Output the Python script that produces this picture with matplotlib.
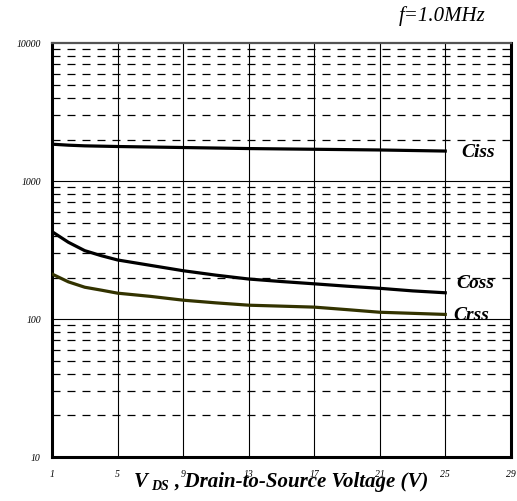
#!/usr/bin/env python3
import matplotlib
matplotlib.use("Agg")
import matplotlib.pyplot as plt
from matplotlib.ticker import FixedLocator, NullFormatter

# capacitance vs drain-source voltage (pF)
vds = [1, 2, 3, 4, 5, 7, 9, 11, 13, 15, 17, 19, 21, 23, 25]
ciss = [1850, 1820, 1800, 1790, 1780, 1765, 1750, 1735, 1720, 1710, 1700, 1690, 1680, 1665, 1650]
coss = [430, 360, 313, 288, 268, 245, 224, 208, 195, 187, 180, 173, 167, 160, 155]
crss = [212, 186, 170, 162, 154, 146, 137, 131, 126, 124, 122, 117, 112, 110, 108]

xticks = [1, 5, 9, 13, 17, 21, 25, 29]
yticks = [10, 100, 1000, 10000]
minor_y = [m * d for d in (10, 100, 1000) for m in range(2, 10)]

serif = "Liberation Serif"

fig = plt.figure(figsize=(5.17, 5.01), dpi=100)
ax = fig.add_axes([0.1006, 0.0878, 0.8874, 0.8262])

ax.set_yscale("log")
ax.set_xlim(1, 29)
ax.set_ylim(10, 10000)

# grid
for x in xticks[1:-1]:
    ax.axvline(x, color="black", lw=0.8, zorder=1)
for y in yticks[1:-1]:
    ax.axhline(y, color="black", lw=0.8, zorder=1)
for y in minor_y:
    ax.axhline(y, color="black", lw=0.9, ls=(0, (6.4, 5.6)), zorder=1)

ax.plot(vds, ciss, color="black", lw=2.3, zorder=3)
ax.plot(vds, coss, color="black", lw=2.3, zorder=3)
ax.plot(vds, crss, color="#333300", lw=2.3, zorder=3)

ax.xaxis.set_major_locator(FixedLocator(xticks))
ax.yaxis.set_major_locator(FixedLocator(yticks))
ax.yaxis.set_minor_locator(FixedLocator(minor_y))
ax.yaxis.set_minor_formatter(NullFormatter())
ax.set_xticklabels([str(v) for v in xticks], fontfamily=serif, fontstyle="italic", fontsize=7)
ax.set_yticklabels([str(v) for v in yticks], fontfamily=serif, fontstyle="italic", fontsize=7)
ax.tick_params(which="both", length=0)
ax.tick_params(axis="x", pad=9)
ax.tick_params(axis="y", pad=8)

for s in ax.spines.values():
    s.set_linewidth(2.2)
    s.set_color("black")
ax.spines["top"].set_color("#555555")
ax.spines["top"].set_linewidth(1.6)

lab = dict(fontfamily=serif, fontstyle="italic", fontweight="bold", fontsize=14)
ax.text(26.0, 1620, "Ciss", va="center", ha="left", **lab)
ax.text(25.7, 182, "Coss", va="center", ha="left", **lab)
ax.text(25.5, 106, "Crss", va="center", ha="left", **lab)

# x axis label
fig.text(134 / 517, 1 - 487 / 501, "V", fontfamily=serif, fontstyle="italic",
         fontweight="bold", fontsize=15, ha="left", va="baseline")
fig.text(151 / 517, 1 - 490 / 501, "DS", fontfamily=serif, fontstyle="italic",
         fontweight="bold", fontsize=10, ha="left", va="baseline")
fig.text(174 / 517, 1 - 487 / 501, ", Drain-to-Source Voltage (V)", fontfamily=serif,
         fontstyle="italic", fontweight="bold", fontsize=15, ha="left", va="baseline")

fig.text(486 / 517, 1 - 21 / 501, "f=1.0MHz", fontfamily=serif, fontstyle="italic",
         fontsize=15, ha="right", va="baseline")

fig.savefig("out.png", dpi=100)
